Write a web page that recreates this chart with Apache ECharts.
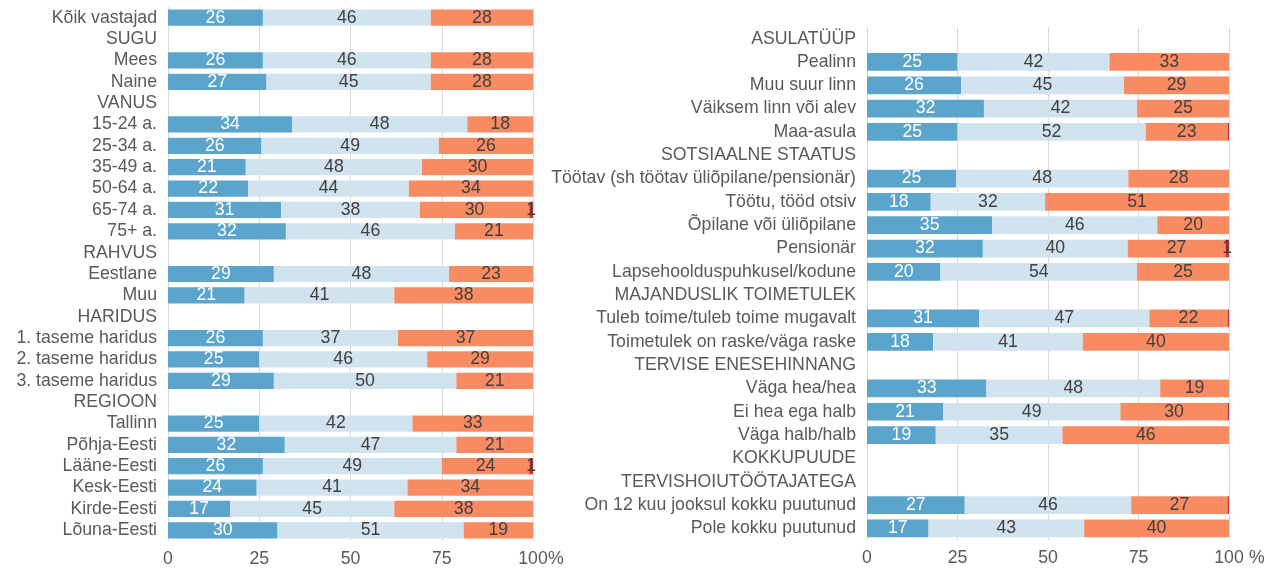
<!DOCTYPE html>
<html>
<head>
<meta charset="utf-8">
<script src="https://cdn.jsdelivr.net/npm/echarts@6/dist/echarts.min.js"></script>
<style>
  html, body { margin: 0; padding: 0; background: #fff; }
  #presentation { width: 1277px; height: 574px; }
</style>
</head>
<body>
<div id="presentation"></div>
<script>
// left panel
var leftCats = ['Kõik vastajad', 'SUGU', 'Mees', 'Naine', 'VANUS', '15-24 a.', '25-34 a.', '35-49 a.',
  '50-64 a.', '65-74 a.', '75+ a.', 'RAHVUS', 'Eestlane', 'Muu', 'HARIDUS', '1. taseme haridus',
  '2. taseme haridus', '3. taseme haridus', 'REGIOON', 'Tallinn', 'Põhja-Eesti', 'Lääne-Eesti',
  'Kesk-Eesti', 'Kirde-Eesti', 'Lõuna-Eesti'];
var leftBlue   = [26, '-', 26, 27, '-', 34, 25.6, 21.3, 22, 31, 32.3, '-', 29, 21, '-', 26, 25, 29, '-', 25, 32, 26, 24.3, 17, 30];
var leftLight  = [46, '-', 46, 45, '-', 48, 48.6, 48.3, 44, 38, 46.3, '-', 48, 41, '-', 37, 46, 50, '-', 42, 47, 49, 41.3, 45, 51];
var leftOrange = [28, '-', 28, 28, '-', 18, 25.8, 30.4, 34, 30, 21.4, '-', 23, 38, '-', 37, 29, 21, '-', 33, 21, 24, 34.4, 38, 19];
var leftRed    = [0, '-', 0, 0, '-', 0, 0, 0, 0, 1, 0, '-', 0, 0, '-', 0, 0, 0, '-', 0, 0, 1, 0, 0, 0];

// right panel
var rightCats = ['ASULATÜÜP', 'Pealinn', 'Muu suur linn', 'Väiksem linn või alev', 'Maa-asula',
  'SOTSIAALNE STAATUS', 'Töötav (sh töötav üliõpilane/pensionär)', 'Töötu, tööd otsiv',
  'Õpilane või üliõpilane', 'Pensionär', 'Lapsehoolduspuhkusel/kodune', 'MAJANDUSLIK TOIMETULEK',
  'Tuleb toime/tuleb toime mugavalt', 'Toimetulek on raske/väga raske', 'TERVISE ENESEHINNANG',
  'Väga hea/hea', 'Ei hea ega halb', 'Väga halb/halb', 'KOKKUPUUDE', 'TERVISHOIUTÖÖTAJATEGA',
  'On 12 kuu jooksul kokku puutunud', 'Pole kokku puutunud'];
var rightBlue   = ['-', 25, 26, 32.3, 25, '-', 24.6, 17.6, 34.6, 32, 20.3, '-', 31, 18.3, '-', 33, 21, 19, '-', '-', 27, 17];
var rightLight  = ['-', 42, 45, 42.3, 52, '-', 47.6, 31.6, 45.6, 40, 54.3, '-', 47, 41.3, '-', 48, 49, 35, '-', '-', 46, 43];
var rightOrange = ['-', 33, 29, 25.4, 22.6, '-', 27.8, 50.8, 19.8, 27, 25.4, '-', 21.6, 40.4, '-', 19, 29.6, 46, '-', '-', 26.6, 40];
var rightRed    = ['-', 0, 0, 0, 0.4, '-', 0, 0, 0, 1, 0, '-', 0.4, 0, '-', 0, 0.4, 0, '-', '-', 0.4, 0];

var xTicks = [0, 25, 50, 75, 100];

var colors = ['#5ba5cd', '#d0e3ef', '#f98b63', '#c8303a'];
var labelColors = ['#ffffff', '#404040', '#404040', '#404040'];
var font = "'Liberation Sans', Arial, sans-serif";
var fs = 17.7;

function fmt(p) {
  if (typeof p.value !== 'number' || p.value < 1) return '';
  return Math.round(p.value);
}

function makeSeries(idx, stack, arrays) {
  return arrays.map(function (arr, k) {
    return {
      type: 'bar',
      stack: stack,
      xAxisIndex: idx,
      yAxisIndex: idx,
      barWidth: '76%',
      data: arr,
      itemStyle: { color: colors[k] },
      label: {
        show: true,
        position: 'inside',
        color: labelColors[k],
        fontSize: fs,
        fontFamily: font,
        formatter: fmt
      }
    };
  });
}

function xAxisFor(idx, gap) {
  return {
    type: 'value',
    gridIndex: idx,
    min: 0,
    max: 100,
    interval: 25,
    name: '%',
    nameLocation: 'end',
    nameGap: gap,
    nameMoveOverlap: false,
    nameTextStyle: { color: '#595959', fontSize: fs, fontFamily: font, align: 'left', verticalAlign: 'top', padding: [9, 0, 0, 0] },
    axisLine: { show: false },
    axisTick: { show: false },
    axisLabel: {
      color: '#595959', fontSize: fs, fontFamily: font, margin: 9,
      formatter: function (v) { return xTicks.indexOf(v) >= 0 ? String(v) : ''; }
    },
    splitLine: { show: true, lineStyle: { color: '#d9d9d9', width: 1 } }
  };
}

function yAxisFor(idx, cats) {
  return {
    type: 'category',
    gridIndex: idx,
    data: cats,
    inverse: true,
    axisLine: { show: false },
    axisTick: { show: false },
    axisLabel: { interval: 0, color: '#595959', fontSize: fs, fontFamily: font, margin: 11 }
  };
}

var option = {
  animation: false,
  grid: [
    { left: 168, right: 744, top: 7, bottom: 33 },
    { left: 867, right: 48, top: 27, bottom: 34 }
  ],
  xAxis: [xAxisFor(0, 15), xAxisFor(1, 20)],
  yAxis: [yAxisFor(0, leftCats), yAxisFor(1, rightCats)],
  series: makeSeries(0, 'L', [leftBlue, leftLight, leftOrange, leftRed])
    .concat(makeSeries(1, 'R', [rightBlue, rightLight, rightOrange, rightRed]))
};

window.onload = function () {
  var mychart = echarts.init(document.getElementById('presentation'));
  mychart.setOption(option);
};
</script>
</body>
</html>
